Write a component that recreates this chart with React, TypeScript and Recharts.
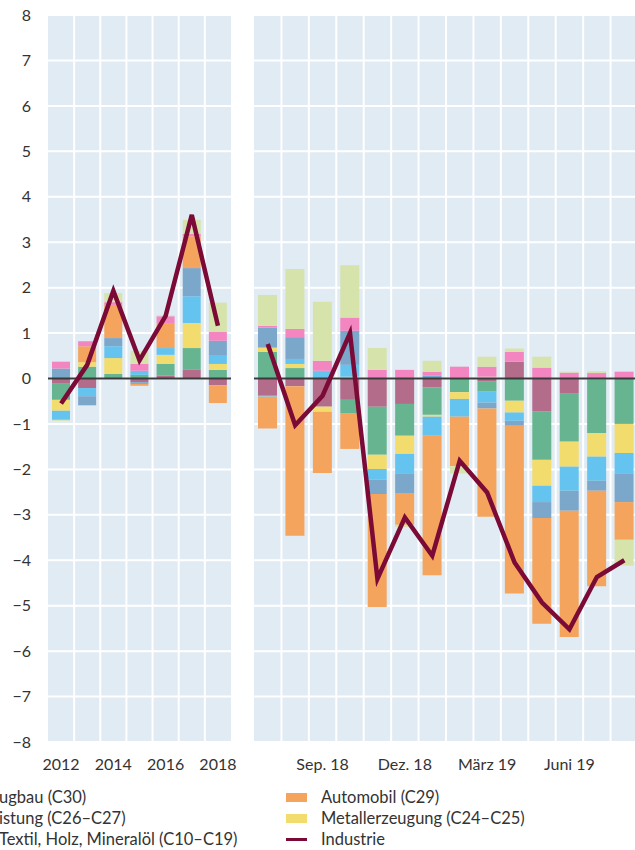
import { ComposedChart, Bar, Line, XAxis, YAxis, CartesianGrid, ReferenceLine } from "recharts";

// Beiträge der Branchen zum Produktionswachstum (Prozentpunkte)
const years = ["2012", "2013", "2014", "2015", "2016", "2017", "2018"];
const months = [
  "Juli 18", "Aug. 18", "Sep. 18", "Okt. 18", "Nov. 18", "Dez. 18", "Jan. 19",
  "Feb. 19", "März 19", "Apr. 19", "Mai 19", "Juni 19", "Juli 19", "Aug. 19",
];
const shownMonths = ["Sep. 18", "Dez. 18", "März 19", "Juni 19"];
const yTicks = [-8, -7, -6, -5, -4, -3, -2, -1, 0, 1, 2, 3, 4, 5, 6, 7, 8];

// annual values, 2012..2018
const chemieY = [-0.1, -0.21, 0, -0.08, 0.06, 0.19, -0.15];
const maschinenY = [-0.37, 0.26, 0.1, 0.08, 0.26, 0.48, 0.19];
const metallY = [-0.24, 0.1, 0.35, 0, 0.2, 0.55, 0.13];
const elektroY = [-0.2, -0.18, 0.26, 0.09, 0.15, 0.59, 0.18];
const fahrzeugY = [0.22, -0.2, 0.18, -0.04, 0, 0.62, 0.33];
const autoY = [0, 0.35, 0.73, -0.04, 0.55, 0.7, -0.39];
const nahrungY = [0.15, 0.11, 0.06, 0.15, 0.15, 0.05, 0.2];
const uebrigeY = [-0.02, 0, 0.2, 0.29, 0.02, 0.31, 0.64];
const industrieY = [-0.55, 0.3, 1.93, 0.4, 1.38, 3.6, 1.16];

// monthly values, Juli 18..Aug. 19
const chemieM = [-0.38, -0.17, -0.62, -0.47, -0.62, -0.56, -0.2, 0.02, -0.07, 0.37, -0.73, -0.32, -0.02, 0];
const maschinenM = [0.59, 0.23, 0, -0.29, -1.06, -0.7, -0.6, -0.3, -0.22, -0.49, -1.06, -1.07, -1.18, -1.0];
const metallM = [0.09, 0.09, -0.11, 0.04, -0.31, -0.4, -0.04, -0.15, 0.04, -0.26, -0.57, -0.55, -0.52, -0.64];
const elektroM = [-0.02, 0.11, 0.15, 0.26, -0.24, -0.44, -0.42, -0.39, -0.24, -0.18, -0.36, -0.53, -0.53, -0.46];
const fahrzeugM = [0.44, 0.48, 0.02, 0.75, -0.31, -0.42, 0.06, 0, -0.13, -0.11, -0.35, -0.44, -0.22, -0.62];
const autoM = [-0.7, -3.29, -1.35, -0.79, -2.49, -0.7, -3.07, -1.09, -2.38, -3.69, -2.33, -2.78, -2.1, -0.83];
const nahrungM = [0.04, 0.18, 0.22, 0.29, 0.19, 0.19, 0.09, 0.24, 0.22, 0.22, 0.24, 0.13, 0.12, 0.15];
const uebrigeM = [0.68, 1.32, 1.3, 1.15, 0.48, -0.05, 0.24, -0.16, 0.22, 0.07, 0.24, 0.02, 0.04, -0.57];
const industrieM = [0.76, -1.03, -0.38, 1.0, -4.41, -3.06, -3.9, -1.81, -2.51, -4.05, -4.93, -5.52, -4.37, -4.0];

const series = [
  { key: "chemie", name: "Chemie, Pharma (C20–C21)", color: "#b36c8a" },
  { key: "maschinen", name: "Maschinenbau (C28)", color: "#67b590" },
  { key: "metall", name: "Metallerzeugung (C24–C25)", color: "#f2dc6e" },
  { key: "elektro", name: "Elektronik, elektrische Ausrüstung (C26–C27)", color: "#64c4ef" },
  { key: "fahrzeug", name: "Sonstiger Fahrzeugbau (C30)", color: "#7ba7cb" },
  { key: "auto", name: "Automobil (C29)", color: "#f4a45d" },
  { key: "nahrung", name: "Nahrung, Textil, Holz, Mineralöl (C10–C19)", color: "#f385c0" },
  { key: "uebrige", name: "Übrige", color: "#d6e4ab" },
];

const annualData = years.map((label, i) => ({
  label,
  chemie: chemieY[i], maschinen: maschinenY[i], metall: metallY[i], elektro: elektroY[i],
  fahrzeug: fahrzeugY[i], auto: autoY[i], nahrung: nahrungY[i], uebrige: uebrigeY[i],
  industrie: industrieY[i],
}));

const monthlyData = months.map((label, i) => ({
  label,
  chemie: chemieM[i], maschinen: maschinenM[i], metall: metallM[i], elektro: elektroM[i],
  fahrzeug: fahrzeugM[i], auto: autoM[i], nahrung: nahrungM[i], uebrige: uebrigeM[i],
  industrie: industrieM[i],
}));

const BG = "#e1ebf4";
const TEXT = "#333";
const LINE = "#7b0a37";
const FONT = "Lato, 'Open Sans', sans-serif";
const tickStyle = { fill: TEXT, fontSize: 16, fontFamily: FONT };

// white lines between the bar slots
const slotLines = (n: number) => ({ offset }: any) => {
  const out: number[] = [];
  for (let i = 1; i < n; i++) out.push(offset.left + (offset.width * i) / n);
  return out;
};

function Panel({ data, width, rightMargin, yAxisWidth, labelFilter }: {
  data: any[]; width: number; rightMargin: number; yAxisWidth: number;
  labelFilter: (v: string, i: number) => string;
}) {
  return (
    <ComposedChart
      width={width}
      height={780}
      data={data}
      stackOffset="sign"
      barCategoryGap={4}
      margin={{ top: 15, right: rightMargin, bottom: 0, left: 0 }}
    >
      <CartesianGrid
        fill={BG}
        fillOpacity={1}
        stroke="#fff"
        strokeWidth={2}
        verticalCoordinatesGenerator={slotLines(data.length)}
      />
      <XAxis
        dataKey="label"
        height={38}
        interval={0}
        axisLine={false}
        tickLine={false}
        tickSize={0}
        tickMargin={17}
        tick={tickStyle}
        tickFormatter={labelFilter}
      />
      <YAxis
        domain={[-8, 8]}
        ticks={yTicks}
        hide={yAxisWidth === 0}
        width={yAxisWidth}
        axisLine={false}
        tickLine={false}
        tickSize={0}
        tickMargin={17}
        tick={tickStyle}
        tickFormatter={(v: number) => (v < 0 ? `\u2212${Math.abs(v)}` : `${v}`)}
      />
      {series.map(s => (
        <Bar key={s.key} dataKey={s.key} name={s.name} stackId="a" fill={s.color} isAnimationActive={false} />
      ))}
      <ReferenceLine y={0} stroke="#3a3a3a" strokeWidth={2} />
      <Line
        type="linear"
        dataKey="industrie"
        name="Industrie"
        stroke={LINE}
        strokeWidth={4.5}
        dot={false}
        isAnimationActive={false}
      />
    </ComposedChart>
  );
}

const legendLeft = ["ugbau (C30)", "istung (C26–C27)", "Textil, Holz, Mineralöl (C10–C19)"];
const legendRight = [
  { label: "Automobil (C29)", color: "#f4a45d", line: false },
  { label: "Metallerzeugung (C24–C25)", color: "#f2dc6e", line: false },
  { label: "Industrie", color: LINE, line: true },
];

export default function App() {
  return (
    <div style={{ position: "absolute", left: 0, top: 0, width: 635, height: 850, overflow: "hidden", background: "#fff", fontFamily: FONT, color: TEXT }}>
      <div style={{ position: "absolute", left: 0, top: 0 }}>
        <Panel data={annualData} width={243} rightMargin={12} yAxisWidth={48} labelFilter={(v, i) => (i % 2 === 0 ? v : "")} />
      </div>
      <div style={{ position: "absolute", left: 254, top: 0 }}>
        <Panel data={monthlyData} width={384} rightMargin={0} yAxisWidth={0} labelFilter={v => (shownMonths.includes(v) ? v : "")} />
      </div>

      {/* legend, left column is cut off by the frame */}
      {legendLeft.map((t, i) => (
        <div key={t} style={{ position: "absolute", left: -1, top: 787 + i * 21, fontSize: 16.5, lineHeight: "20px", whiteSpace: "nowrap" }}>
          {t}
        </div>
      ))}
      {legendRight.map((e, i) => (
        <div key={e.label} style={{ position: "absolute", left: 286, top: 787 + i * 21, height: 20, display: "flex", alignItems: "center", whiteSpace: "nowrap" }}>
          <span style={{ display: "inline-block", width: 21, height: e.line ? 3 : 9, background: e.color, marginRight: 14 }} />
          <span style={{ fontSize: 16.5, lineHeight: "20px" }}>{e.label}</span>
        </div>
      ))}
    </div>
  );
}
